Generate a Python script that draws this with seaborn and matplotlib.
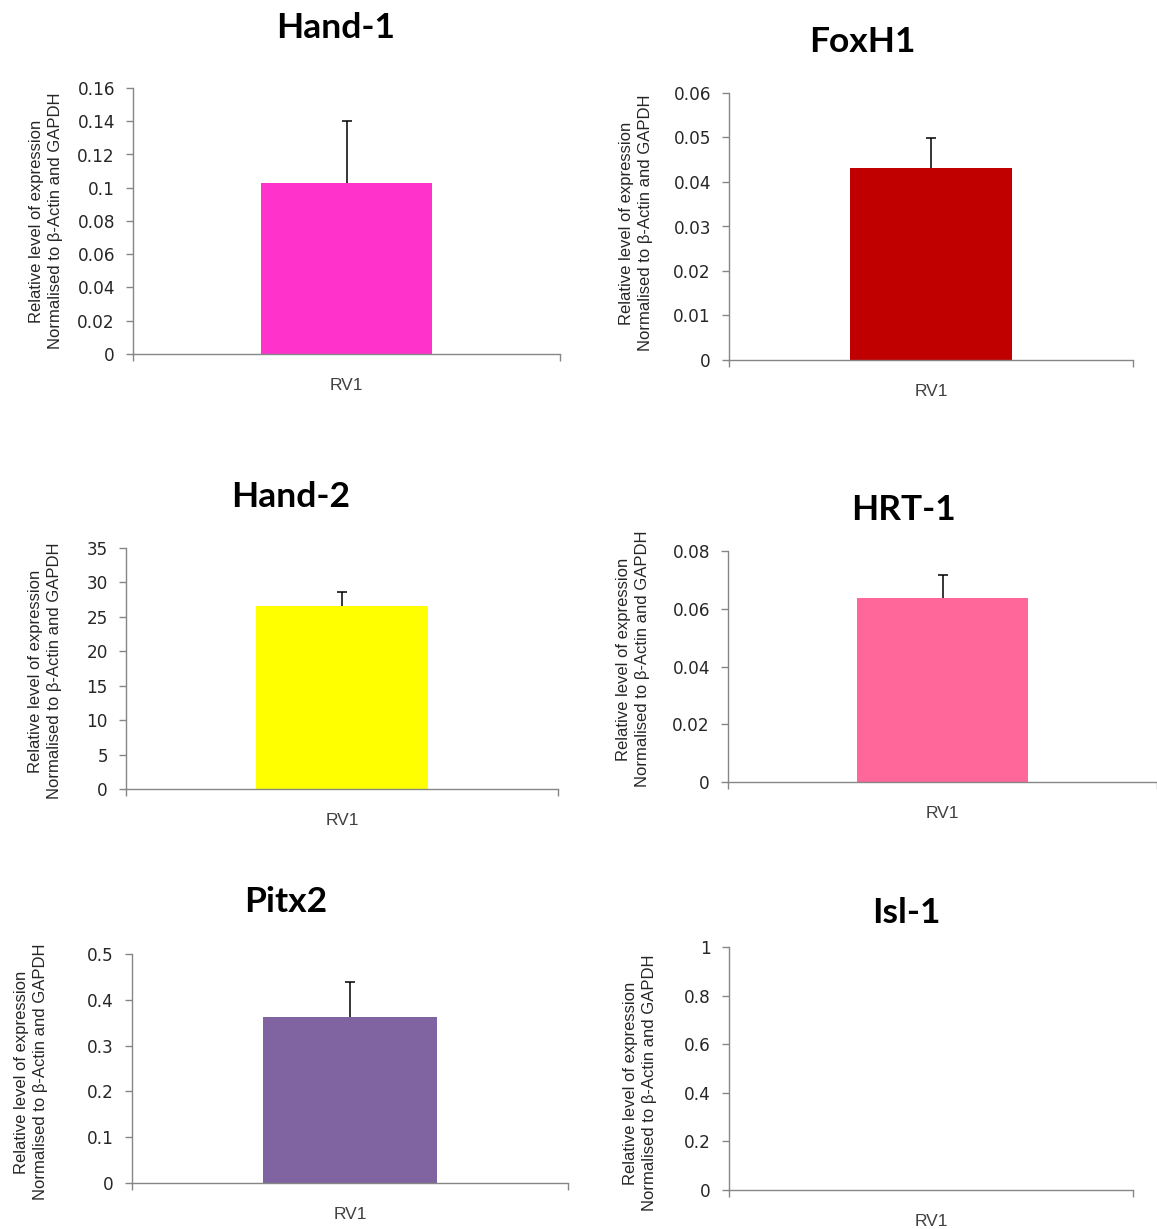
import matplotlib
matplotlib.use("Agg")
import matplotlib.pyplot as plt
import seaborn as sns
import numpy as np
import pandas as pd
from matplotlib.ticker import FixedLocator, FuncFormatter

# ---- data ----
genes = ["Hand-1", "FoxH1", "Hand-2", "HRT-1", "Pitx2", "Isl-1"]
category = ["RV1"]
values = [0.103, 0.0432, 26.6, 0.0637, 0.362, 0.0]
errors = [0.037, 0.0066, 2.0, 0.008, 0.076, 0.0]
colors = ["#FF33CC", "#C00000", "#FFFF00", "#FF6699", "#8064A2", "#FFFFFF"]
ymax = [0.16, 0.06, 35, 0.08, 0.5, 1.0]
ystep = [0.02, 0.01, 5, 0.02, 0.1, 0.2]
ylabel_text = "Relative level of expression\nNormalised to \u03b2-Actin and GAPDH"

# ---- layout (pixels) ----
W, H = 1157, 1229
# left, right, top, bottom of plot area
boxes = [(133, 560, 88, 354), (729, 1133, 93, 360),
         (126, 558, 548, 789), (728, 1157, 551, 782),
         (132, 568, 954, 1183), (729, 1133, 947, 1190)]
title_pos = [(336, 28), (862, 42), (291, 497), (903, 510), (286, 902), (906, 913)]
ylabel_pos = [(46, 221), (636, 223), (45, 671), (633, 659), (31, 1072), (640, 1083)]

sns.set_style("white")
plt.rcParams['font.family'] = ['Liberation Sans', 'DejaVu Sans']

fig = plt.figure(figsize=(W / 100, H / 100), dpi=100)
spine_col = "#868686"

for i, g in enumerate(genes):
    l, r, t, b = boxes[i]
    ax = fig.add_axes([l / W, 1 - b / H, (r - l) / W, (b - t) / H])
    df = pd.DataFrame({"cat": category, "val": [values[i]]})
    sns.barplot(data=df, x="cat", y="val", color=colors[i], width=0.4,
                saturation=1, linewidth=0, errorbar=None, ax=ax)
    if errors[i] > 0:
        cont = ax.errorbar([0], [values[i]], yerr=[[0], [errors[i]]], fmt="none",
                           ecolor="black", elinewidth=1.1, capsize=3.5, capthick=1.1)
        caplines = cont[1]
        if len(caplines) > 1:
            caplines[0].set_visible(False)
    ax.set_xlim(-0.5, 0.5)
    ax.set_ylim(0, ymax[i])
    ticks = np.round(np.arange(0, ymax[i] + ystep[i] / 2, ystep[i]), 6)
    ax.yaxis.set_major_locator(FixedLocator(ticks))
    ax.yaxis.set_major_formatter(FuncFormatter(lambda v, p: f"{round(v, 6):g}"))
    for s in ["top", "right"]:
        ax.spines[s].set_visible(False)
    for s in ["left", "bottom"]:
        ax.spines[s].set_color(spine_col)
        ax.spines[s].set_linewidth(1.0)
    ax.tick_params(axis="y", which="major", direction="out", length=5,
                   width=1.0, color=spine_col, pad=8, labelsize=12.2,
                   labelcolor="#262626", left=True)
    for lab in ax.get_yticklabels():
        lab.set_fontfamily("DejaVu Sans")
    ax.xaxis.set_minor_locator(FixedLocator([-0.5, 0.5]))
    ax.tick_params(axis="x", which="major", length=0, pad=17, labelsize=12.5,
                   labelcolor="#404040")
    ax.tick_params(axis="x", which="minor", direction="out", length=5,
                   width=1.0, color=spine_col, bottom=True)
    ax.set_xlabel("")
    ax.set_ylabel(ylabel_text, fontsize=12, color="#262626", linespacing=1.3,
                  va="center", ha="center")
    lx, ly = ylabel_pos[i]
    ax.yaxis.set_label_coords((lx - l) / (r - l), (b - ly) / (b - t))
    tx, ty = title_pos[i]
    ax.set_title(g, x=(tx - l) / (r - l), y=(b - ty) / (b - t), va="center",
                 pad=0, fontsize=25.5, fontweight="bold",
                 family=["Lato", "DejaVu Sans"], color="black")

fig.savefig("out.png", dpi=100, facecolor="white")
